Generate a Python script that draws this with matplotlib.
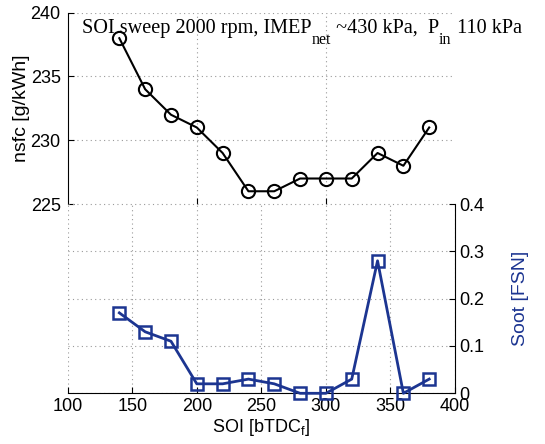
import matplotlib
matplotlib.use("Agg")
import matplotlib.pyplot as plt
from matplotlib.transforms import IdentityTransform

plt.rcParams['font.family'] = ['Liberation Sans', 'DejaVu Sans']
plt.rcParams['mathtext.fontset'] = 'custom'
plt.rcParams['mathtext.rm'] = 'Liberation Sans'

# data
soi = [140, 160, 180, 200, 220, 240, 260, 280, 300, 320, 340, 360, 380]
nsfc = [238, 234, 232, 231, 229, 226, 226, 227, 227, 227, 229, 228, 231]
soot = [0.17, 0.13, 0.11, 0.02, 0.02, 0.03, 0.02, 0.0, 0.0, 0.03, 0.28, 0.0, 0.03]

nsfc_ticks = [225, 230, 235, 240]
soot_ticks = [0, 0.1, 0.2, 0.3, 0.4]
soot_ticklabels = ['0', '0.1', '0.2', '0.3', '0.4']
x_ticks = [100, 150, 200, 250, 300, 350, 400]

# title pieces: (text, subscript?)
title_parts = [('SOI sweep 2000 rpm, IMEP', False), ('net', True),
               (' ~430 kPa,  P', False), ('in', True), (' 110 kPa', False)]

blue = '#1c3591'
grid_kw = dict(color='#9a9a9a', linestyle=(0, (1, 3)), linewidth=0.8)

fig = plt.figure(figsize=(5.45, 4.44), dpi=100)
ax1 = fig.add_axes([0.1242, 0.5405, 0.7107, 0.4309])
ax2 = fig.add_axes([0.1242, 0.1142, 0.7107, 0.4263])

# --- top: nsfc ---
ax1.plot(soi, nsfc, color='black', lw=1.5, marker='o', ms=9.5, mfc='none',
         mew=1.5, zorder=3)
ax1.set_xlim(100, 400)
ax1.set_ylim(225, 240)
ax1.set_yticks(nsfc_ticks)
ax1.set_xticks([200, 300])
ax1.tick_params(axis='x', direction='in', length=4, labelbottom=False)
ax1.tick_params(axis='y', direction='in', length=4, labelsize=13, pad=5)
for s in ['top', 'right', 'bottom']:
    ax1.spines[s].set_visible(False)
ax1.patch.set_visible(False)
ax1.grid(True, **grid_kw)
ax1.set_ylabel('nsfc [g/kWh]', fontsize=14)
ax1.yaxis.set_label_coords(-0.098, 0.5)

# title with MATLAB-style low subscripts
renderer = fig.canvas.get_renderer()
x0, y0 = ax1.transAxes.transform((0.037, 0.895))
for s, sub in title_parts:
    t = fig.text(x0, y0 - (11 if sub else 0), s, transform=IdentityTransform(),
                 family='Liberation Serif', fontsize=11.5 if sub else 14.6,
                 va='baseline', ha='left')
    x0 = t.get_window_extent(renderer).x1

# --- bottom: soot ---
ax2.plot(soi, soot, color=blue, lw=2, marker='s', ms=8.5, mfc='none',
         mew=1.8, zorder=3, clip_on=False)
ax2.set_xlim(100, 400)
ax2.set_ylim(0, 0.4)
ax2.set_xticks(x_ticks)
ax2.set_yticks(soot_ticks)
ax2.set_yticklabels(soot_ticklabels)
ax2.yaxis.tick_right()
ax2.yaxis.set_label_position('right')
ax2.tick_params(direction='in', length=4, labelsize=13)
ax2.tick_params(axis='y', pad=3)
ax2.spines['left'].set_visible(False)
ax2.spines['top'].set_visible(False)
ax2.patch.set_visible(False)
ax2.grid(True, **grid_kw)
ax2.set_xlabel(r'SOI [bTDC$_\mathregular{f}$]', fontsize=13, labelpad=1)
ax2.set_ylabel('Soot [FSN]', fontsize=14, color=blue, rotation=90)
ax2.yaxis.set_label_coords(1.147, 0.5)

fig.savefig('out.png', dpi=100)
